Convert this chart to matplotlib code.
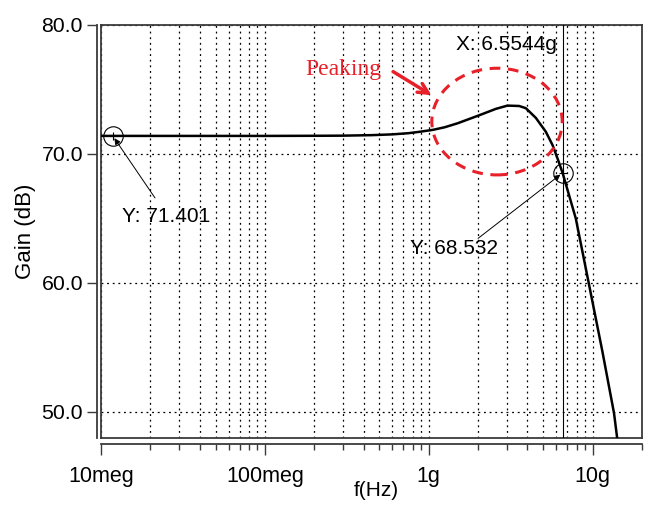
import matplotlib
matplotlib.use("Agg")
import matplotlib.pyplot as plt
from matplotlib.patches import Ellipse
from matplotlib.ticker import FixedLocator, LogLocator, NullFormatter

plt.rcParams['font.family'] = ['Liberation Sans', 'DejaVu Sans']

# frequency response
freq_hz = [1e7, 1.18e7, 3e7, 1e8, 2e8, 3e8, 4.5e8, 6e8, 7.5e8, 8.8e8, 1.06e9, 1.25e9,
           1.5e9, 2.03e9, 2.57e9, 3.02e9, 3.56e9, 3.91e9, 4.5e9, 5.18e9, 5.69e9,
           6.1e9, 6.5544e9, 7.89e9, 9.51e9, 1.146e10, 1.35e10, 1.41e10]
gain_db = [71.40, 71.401, 71.40, 71.40, 71.41, 71.42, 71.46, 71.52, 71.61, 71.72, 71.87, 72.07,
           72.38, 73.0, 73.5, 73.75, 73.72, 73.55, 72.8, 71.72, 70.69,
           69.66, 68.532, 65.0, 59.85, 54.7, 49.9, 48.0]

x_ticks = [1e7, 1e8, 1e9, 1e10]
x_labels = ['10meg', '100meg', '1g', '10g']
y_ticks = [50, 60, 70, 80]
y_labels = ['50.0', '60.0', '70.0', '80.0']

cursor_f = 6.5544e9
marker_pts = [(1.18e7, 71.401), (6.5544e9, 68.532)]

fig = plt.figure(figsize=(6.48, 5.09), dpi=100)
ax = fig.add_axes([101 / 648, 1 - 437.7 / 509, 541 / 648, 412.7 / 509])

ax.set_xscale('log')
ax.set_xlim(1e7, 2e10)
ax.set_ylim(48, 80)

frame_c = '#3a3a3a'
ax.spines['left'].set_position(('outward', 3))
ax.spines['bottom'].set_position(('outward', 4.7))
for s in ax.spines.values():
    s.set_color(frame_c)
    s.set_linewidth(1.3)
# inner frame edges (left/bottom) since the axis lines are offset
ax.plot([0, 0], [0, 1], transform=ax.transAxes, color=frame_c, lw=1.3, clip_on=False)
ax.plot([0, 1], [0, 0], transform=ax.transAxes, color=frame_c, lw=1.3, clip_on=False)

ax.xaxis.set_major_locator(FixedLocator(x_ticks))
ax.set_xticklabels(x_labels)
ax.xaxis.set_minor_locator(LogLocator(base=10, subs=range(2, 10), numticks=20))
ax.xaxis.set_minor_formatter(NullFormatter())
ax.set_yticks(y_ticks)
ax.set_yticklabels(y_labels)

ax.tick_params(axis='x', which='major', length=8, width=1, color=frame_c, pad=8, labelsize=15.5)
ax.tick_params(axis='x', which='minor', length=4.5, width=1, color=frame_c)
ax.tick_params(axis='y', which='major', length=7, width=1, color=frame_c, pad=3, labelsize=15.3)

grid_kw = dict(color='black', lw=0.9, linestyle=(0, (1.5, 3)))
ax.grid(True, which='major', axis='both', **grid_kw)
ax.grid(True, which='minor', axis='x', **grid_kw)
ax.set_axisbelow(True)

ax.set_ylabel('Gain (dB)', fontsize=16)
ax.yaxis.set_label_coords(-0.12, 0.5)
ax.set_xlabel('f(Hz)', fontsize=15)
ax.xaxis.set_label_coords(0.508, -0.105)

# curve
ax.plot(freq_hz, gain_db, color='black', lw=1.8, zorder=4)

# cursor
ax.axvline(cursor_f, color='black', lw=0.8, zorder=3)
ax.text(0.842, 0.939, 'X: 6.5544g', transform=ax.transAxes, ha='right', va='baseline', fontsize=15)

# markers
for fx, gy in marker_pts:
    ax.plot(fx, gy, 'o', ms=14, mfc='none', mec='black', mew=0.8, zorder=5)
    ax.plot(fx, gy, '+', ms=6, color='black', mew=0.8, zorder=5)

arrow_kw = dict(arrowstyle='-|>', color='black', lw=0.7, mutation_scale=9, shrinkA=0, shrinkB=2)
ax.annotate('', xy=marker_pts[0], xytext=(0.0998, 0.581), textcoords='axes fraction',
            arrowprops=arrow_kw)
ax.text(0.0383, 0.523, 'Y: 71.401', transform=ax.transAxes, ha='left', va='baseline', fontsize=15)
ax.annotate('', xy=marker_pts[1], xytext=(0.697, 0.483), textcoords='axes fraction',
            arrowprops=arrow_kw)
ax.text(0.571, 0.444, 'Y: 68.532', transform=ax.transAxes, ha='left', va='baseline', fontsize=15)

# peaking callout
red = '#e8202a'
ax.text(0.377, 0.879, 'Peaking', transform=ax.transAxes, ha='left', va='baseline',
        fontsize=17, color=red, family=['Liberation Serif', 'DejaVu Serif'])
ax.annotate('', xy=(0.611, 0.830), xytext=(0.540, 0.887), xycoords='axes fraction',
            textcoords='axes fraction',
            arrowprops=dict(arrowstyle='->', color=red, lw=2.5, mutation_scale=18,
                            shrinkA=0, shrinkB=0))
ax.add_patch(Ellipse((0.732, 0.766), 0.241, 0.2585, transform=ax.transAxes, fill=False,
                     edgecolor=red, lw=2.2, linestyle=(0, (3.5, 2.5)), zorder=6))

fig.savefig('out.png', dpi=100)
